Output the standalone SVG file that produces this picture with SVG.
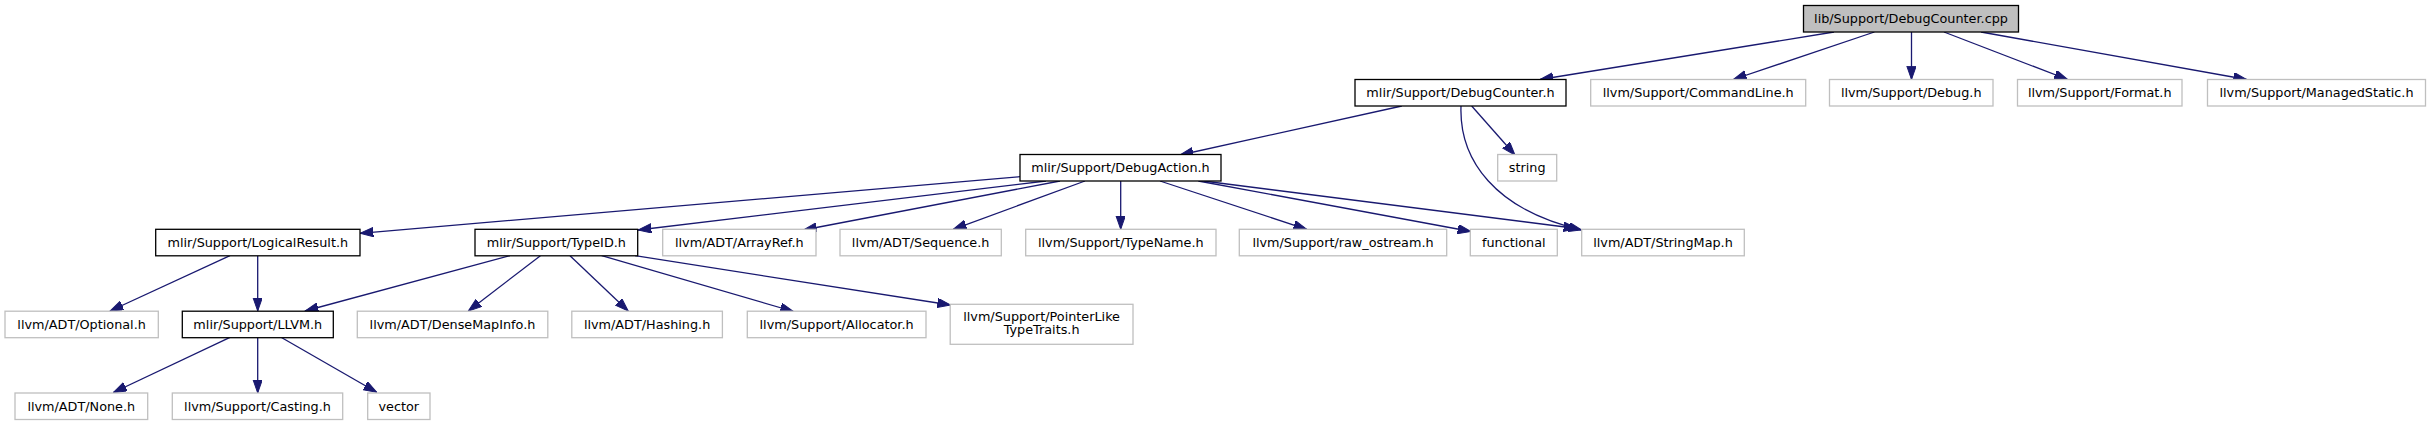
<svg xmlns="http://www.w3.org/2000/svg" width="2431" height="425" viewBox="0 0 2431 425">
<style>
.n rect{fill:#fff;stroke:#000;stroke-width:1.3}
.g rect{fill:#fff;stroke:#bfbfbf;stroke-width:1.3}
.root rect{fill:#bfbfbf;stroke:#000;stroke-width:1.3}
text{font-family:"DejaVu Sans","Liberation Sans",sans-serif;font-size:12.8px;fill:#000;text-anchor:middle}
#edges path{fill:none;stroke:#191970;stroke-width:1.3;marker-end:url(#ah)}
</style>
<defs>
<marker id="ah" markerUnits="userSpaceOnUse" markerWidth="14" markerHeight="10" refX="13.3" refY="4.67" orient="auto">
<path d="M0,0 L13.3,4.67 L0,9.33 Z" fill="#191970" stroke="#191970" stroke-width="1"/>
</marker>
</defs>
<rect width="2431" height="425" fill="#fff"/>
<g id="edges">
<path d="M1834,32 L1540,79.5"/>
<path d="M1874.4,32 L1733.3,79.5"/>
<path d="M1911.5,32 L1911.5,79.5"/>
<path d="M1944,32 L2067.6,79.5"/>
<path d="M1981,32 L2246.7,79.5"/>
<path d="M1401.8,106 L1180,155"/>
<path d="M1471.7,106 L1515,155"/>
<path d="M1461,106 C1459,160 1495,210 1581.7,230"/>
<path d="M1020,176.7 L360,233.3"/>
<path d="M1046,181 L638,230"/>
<path d="M1060,181 L803.3,230"/>
<path d="M1085,181 L953.3,229.3"/>
<path d="M1120.7,181 L1120.7,229.3"/>
<path d="M1160,181 L1306.7,229.3"/>
<path d="M1198.3,181 L1471,231.5"/>
<path d="M1203.3,181 L1577,228.5"/>
<path d="M230,255.7 L110,311"/>
<path d="M257.7,255.7 L257.7,311"/>
<path d="M510,255.7 L305,311"/>
<path d="M540.4,255.7 L468.3,311"/>
<path d="M570,255.7 L628.2,311"/>
<path d="M601.7,255.7 L793.5,311.5"/>
<path d="M635,255.7 L950.6,305"/>
<path d="M230,337.3 L113.3,392.5"/>
<path d="M257.7,337.3 L257.7,393"/>
<path d="M281,337.3 L376.7,392.3"/>
</g>
<g id="node-cpp" class="root"><rect x="1803.5" y="5.5" width="215" height="26.5"/><text x="1911" y="23.4">lib/Support/DebugCounter.cpp</text></g>
<g id="node-debugcounter-h" class="n"><rect x="1355" y="79.5" width="211" height="26.5"/><text x="1460.5" y="97.4">mlir/Support/DebugCounter.h</text></g>
<g id="node-commandline" class="g"><rect x="1590.7" y="79.5" width="215" height="26.5"/><text x="1698.2" y="97.4">llvm/Support/CommandLine.h</text></g>
<g id="node-debug" class="g"><rect x="1829.5" y="79.5" width="163.5" height="26.5"/><text x="1911.2" y="97.4">llvm/Support/Debug.h</text></g>
<g id="node-format" class="g"><rect x="2017.5" y="79.5" width="164.5" height="26.5"/><text x="2099.7" y="97.4">llvm/Support/Format.h</text></g>
<g id="node-managedstatic" class="g"><rect x="2207.5" y="79.5" width="218" height="26.5"/><text x="2316.5" y="97.4">llvm/Support/ManagedStatic.h</text></g>
<g id="node-debugaction" class="n"><rect x="1020" y="154.5" width="201" height="26.5"/><text x="1120.5" y="172.4">mlir/Support/DebugAction.h</text></g>
<g id="node-string" class="g"><rect x="1497.7" y="154.5" width="59" height="26.5"/><text x="1527.2" y="172.4">string</text></g>
<g id="node-logicalresult" class="n"><rect x="155.7" y="229.3" width="204.3" height="26.5"/><text x="257.8" y="247.2">mlir/Support/LogicalResult.h</text></g>
<g id="node-typeid" class="n"><rect x="475" y="229.3" width="162.7" height="26.5"/><text x="556.3" y="247.2">mlir/Support/TypeID.h</text></g>
<g id="node-arrayref" class="g"><rect x="662.7" y="229.3" width="153.3" height="26.5"/><text x="739.3" y="247.2">llvm/ADT/ArrayRef.h</text></g>
<g id="node-sequence" class="g"><rect x="840" y="229.3" width="161.3" height="26.5"/><text x="920.6" y="247.2">llvm/ADT/Sequence.h</text></g>
<g id="node-typename" class="g"><rect x="1025.7" y="229.3" width="190.3" height="26.5"/><text x="1120.8" y="247.2">llvm/Support/TypeName.h</text></g>
<g id="node-raw-ostream" class="g"><rect x="1239.3" y="229.3" width="207.4" height="26.5"/><text x="1343" y="247.2">llvm/Support/raw_ostream.h</text></g>
<g id="node-functional" class="g"><rect x="1470.3" y="229.3" width="87" height="26.5"/><text x="1513.8" y="247.2">functional</text></g>
<g id="node-stringmap" class="g"><rect x="1581.7" y="229.3" width="162.6" height="26.5"/><text x="1663" y="247.2">llvm/ADT/StringMap.h</text></g>
<g id="node-optional" class="g"><rect x="5" y="311.2" width="153.3" height="26.5"/><text x="81.6" y="329.1">llvm/ADT/Optional.h</text></g>
<g id="node-llvm" class="n"><rect x="182.3" y="311.2" width="151" height="26.5"/><text x="257.8" y="329.1">mlir/Support/LLVM.h</text></g>
<g id="node-densemapinfo" class="g"><rect x="357.3" y="311.2" width="190.5" height="26.5"/><text x="452.5" y="329.1">llvm/ADT/DenseMapInfo.h</text></g>
<g id="node-hashing" class="g"><rect x="571.8" y="311.2" width="150.6" height="26.5"/><text x="647.1" y="329.1">llvm/ADT/Hashing.h</text></g>
<g id="node-allocator" class="g"><rect x="747.3" y="311.2" width="178.7" height="26.5"/><text x="836.6" y="329.1">llvm/Support/Allocator.h</text></g>
<g id="node-pointerlike" class="g"><rect x="950.2" y="304.3" width="182.8" height="40"/><text x="1041.6" y="320.8">llvm/Support/PointerLike</text><text x="1041.6" y="334.2">TypeTraits.h</text></g>
<g id="node-none" class="g"><rect x="15" y="393" width="132.7" height="26.5"/><text x="81.3" y="410.9">llvm/ADT/None.h</text></g>
<g id="node-casting" class="g"><rect x="172.3" y="393" width="170.4" height="26.5"/><text x="257.5" y="410.9">llvm/Support/Casting.h</text></g>
<g id="node-vector" class="g"><rect x="367.7" y="393" width="62.3" height="26.5"/><text x="398.8" y="410.9">vector</text></g>
</svg>
